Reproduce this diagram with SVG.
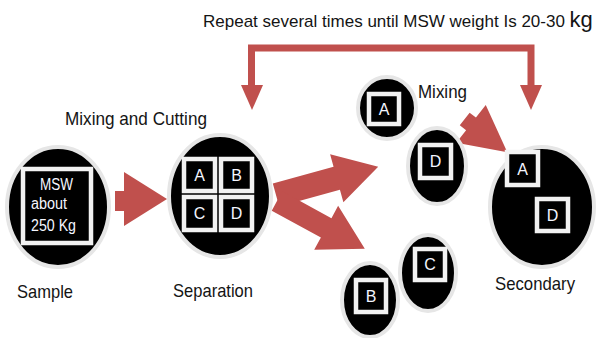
<svg xmlns="http://www.w3.org/2000/svg" width="600" height="338" viewBox="0 0 600 338">
<defs>
<style>
.lbl{font-family:"Liberation Sans",Arial,sans-serif;font-size:19px;fill:#141414}
.ttl{font-family:"Liberation Sans",Arial,sans-serif;font-size:17px;fill:#141414}
.in{font-family:"Liberation Sans",Arial,sans-serif;font-size:16px;fill:#f4f6ff}
.let{font-family:"Liberation Sans",Arial,sans-serif;font-size:16px;fill:#f4f6ff;text-anchor:middle}
.circ{fill:#000;stroke:#e6e6e6;stroke-width:4}
.sq{fill:#000;stroke:#f2f2f2;stroke-width:4.5}
.red{fill:#c0504d}
.redl{fill:none;stroke:#c0504d;stroke-width:7}
</style>
</defs>
<rect width="600" height="338" fill="#fff"/>
<text class="ttl" x="203" y="27">Repeat several times until MSW weight Is 20-30 <tspan style="font-size:22px">kg</tspan></text>
<g id="connectors">
<path class="redl" d="M251.5,88 V48 H531 V88"/>
<polygon class="red" points="241,85 263,85 252,110"/>
<polygon class="red" points="520,85 542,85 531,110"/>
<polygon class="red" points="115,191 124,191 124,172 167,199 124,226 124,211 115,211"/>
<polygon class="red" transform="translate(276,195) rotate(-15.4)" points="0,-12 63,-12 63,-25 106,0 63,25 63,12 0,12"/>
<polygon class="red" transform="translate(277,201) rotate(28.6)" points="0,-11 56,-11 56,-25 100,0 56,25 56,11 0,11"/>
<polygon class="red" transform="translate(464.7,119) rotate(37.9)" points="0,-8 8,-8 8,-24 54,0 8,24 8,8 0,8"/>
</g>
<g id="sample">
<ellipse class="circ" cx="58" cy="207" rx="51" ry="60"/>
<rect class="sq" x="23" y="169" width="68" height="74"/>
<text class="in" x="40" y="190" textLength="33" lengthAdjust="spacingAndGlyphs">MSW</text>
<text class="in" x="31" y="209" textLength="36" lengthAdjust="spacingAndGlyphs">about</text>
<text class="in" x="31" y="231" textLength="45" lengthAdjust="spacingAndGlyphs">250 Kg</text>
<text class="lbl" x="17" y="298" textLength="56" lengthAdjust="spacingAndGlyphs">Sample</text>
</g>
<g id="separation">
<ellipse class="circ" cx="220" cy="196" rx="51" ry="61"/>
<rect class="sq" x="184" y="159" width="31" height="32"/>
<rect class="sq" x="221" y="159" width="31" height="32"/>
<rect class="sq" x="184" y="197" width="31" height="33"/>
<rect class="sq" x="221" y="197" width="31" height="33"/>
<text class="let" x="199.5" y="181">A</text>
<text class="let" x="236.5" y="181">B</text>
<text class="let" x="199.5" y="219">C</text>
<text class="let" x="236.5" y="219">D</text>
<text class="lbl" x="65" y="125" textLength="142" lengthAdjust="spacingAndGlyphs">Mixing and Cutting</text>
<text class="lbl" x="173" y="297" textLength="80" lengthAdjust="spacingAndGlyphs">Separation</text>
</g>
<g id="mixA">
<ellipse class="circ" cx="387" cy="108" rx="29" ry="31"/>
<rect class="sq" x="369" y="94" width="30" height="30"/>
<text class="let" x="384" y="115">A</text>
</g>
<g id="mixD">
<ellipse class="circ" cx="437" cy="166" rx="29" ry="38"/>
<rect class="sq" x="420" y="145" width="31" height="33"/>
<text class="let" x="435.5" y="167">D</text>
<text class="lbl" x="418" y="98" textLength="49" lengthAdjust="spacingAndGlyphs">Mixing</text>
</g>
<g id="C">
<ellipse class="circ" cx="428" cy="273" rx="28" ry="38"/>
<rect class="sq" x="415" y="249" width="30" height="31"/>
<text class="let" x="430" y="270">C</text>
</g>
<g id="B">
<ellipse class="circ" cx="370" cy="300" rx="28" ry="37"/>
<rect class="sq" x="356" y="280" width="30" height="32"/>
<text class="let" x="371" y="302">B</text>
</g>
<g id="secondary">
<ellipse class="circ" cx="542" cy="207" rx="52" ry="60"/>
<rect class="sq" x="507" y="152" width="31" height="33"/>
<rect class="sq" x="537" y="199" width="31" height="32"/>
<text class="let" x="522.5" y="175">A</text>
<text class="let" x="552.5" y="221">D</text>
<text class="lbl" x="495" y="290" textLength="80" lengthAdjust="spacingAndGlyphs">Secondary</text>
</g>
</svg>
